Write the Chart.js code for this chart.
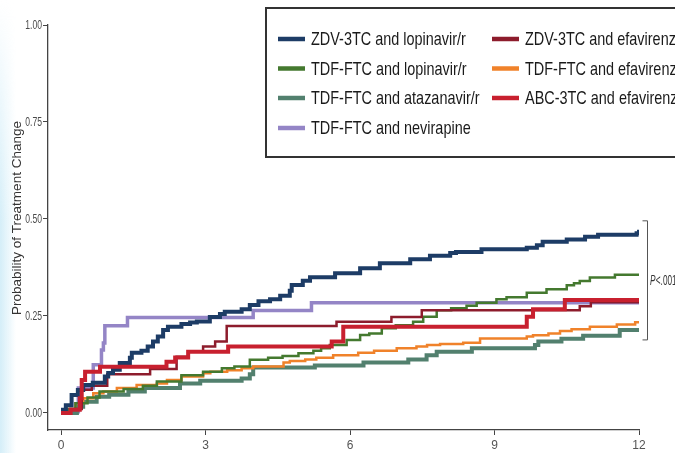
<!DOCTYPE html>
<html>
<head>
<meta charset="utf-8">
<script src="https://cdn.jsdelivr.net/npm/chart.js@4.4.1/dist/chart.umd.min.js"></script>
<style>
  html, body { margin: 0; padding: 0; width: 675px; height: 453px; overflow: hidden; background: #fff; }
  #wrap { position: relative; width: 675px; height: 453px; }
  #tint { position: absolute; left: 0; top: 0; width: 16px; height: 453px;
          background: linear-gradient(to right, rgba(205,235,247,0.85), rgba(255,255,255,0));
          -webkit-mask-image: linear-gradient(to bottom, transparent 0, #000 220px);
          mask-image: linear-gradient(to bottom, transparent 0, #000 220px); }
  canvas { position: absolute; left: 0; top: 0; display: block; }
</style>
</head>
<body>
<div id="wrap">
  <div id="tint"></div>
  <canvas id="c" width="675" height="453"></canvas>
</div>
<script>
// Cumulative probability of treatment change by regimen (months since start)
const xTickValues = [0, 3, 6, 9, 12];
const xTickLabels = ['0', '3', '6', '9', '12'];
const yTickValues = [0, 0.25, 0.5, 0.75, 1];
const yTickLabels = ['0.00', '0.25', '0.50', '0.75', '1.00'];
const yTitle = 'Probability of Treatment Change';
const pText = '<.001';

const names = [
  'ZDV-3TC and lopinavir/r',
  'TDF-FTC and lopinavir/r',
  'TDF-FTC and atazanavir/r',
  'TDF-FTC and nevirapine',
  'ZDV-3TC and efavirenz',
  'TDF-FTC and efavirenz',
  'ABC-3TC and efavirenz'
];
const colors = ['#1d3c66', '#44792f', '#52806e', '#9485c6', '#8d1c2c', '#f0822a', '#c8202f'];

// ZDV-3TC and lopinavir/r
const zdvLpvT = [0, 0.1, 0.22, 0.35, 0.46, 0.66, 0.91, 0.98, 1.08, 1.22, 1.43, 1.47, 1.67, 1.8, 1.91, 2.01, 2.12, 2.22, 2.5, 2.68, 2.82, 3.09, 3.3, 3.4, 3.75, 3.92, 4.1, 4.34, 4.55, 4.75, 4.79, 5.02, 5.17, 5.69, 6.21, 6.62, 7.25, 7.66, 8.08, 8.2, 8.73, 9.67, 9.88, 10.0, 10.5, 10.88, 11.15, 11.95, 12.0];
const zdvLpvY = [0.008, 0.02, 0.046, 0.059, 0.072, 0.078, 0.094, 0.103, 0.111, 0.129, 0.142, 0.155, 0.16, 0.171, 0.184, 0.197, 0.214, 0.222, 0.229, 0.233, 0.236, 0.247, 0.255, 0.261, 0.267, 0.278, 0.288, 0.293, 0.302, 0.315, 0.33, 0.341, 0.35, 0.36, 0.373, 0.386, 0.396, 0.405, 0.412, 0.415, 0.422, 0.426, 0.432, 0.441, 0.447, 0.454, 0.459, 0.463, 0.472];

// TDF-FTC and lopinavir/r
const tdfLpvT = [0, 0.15, 0.3, 0.55, 0.8, 1.3, 1.7, 1.99, 2.5, 2.95, 3.34, 3.6, 3.92, 4.3, 4.6, 4.93, 5.24, 5.4, 5.58, 5.93, 6.21, 6.4, 6.66, 6.95, 7.31, 7.52, 7.8, 8.1, 8.42, 8.63, 9.04, 9.25, 9.67, 10.08, 10.5, 10.65, 10.77, 10.98, 11.5, 12];
const tdfLpvY = [0, 0.01, 0.025, 0.04, 0.055, 0.062, 0.07, 0.081, 0.097, 0.106, 0.115, 0.12, 0.137, 0.142, 0.147, 0.154, 0.16, 0.167, 0.175, 0.188, 0.201, 0.205, 0.218, 0.226, 0.235, 0.248, 0.265, 0.27, 0.276, 0.284, 0.293, 0.298, 0.31, 0.319, 0.329, 0.334, 0.34, 0.349, 0.356, 0.356];

// TDF-FTC and atazanavir/r
const tdfAtvT = [0, 0.33, 0.46, 0.74, 1.0, 1.4, 1.74, 2.47, 2.89, 3.75, 3.92, 3.99, 5.27, 6.28, 7.21, 7.59, 7.8, 8.53, 9.84, 9.91, 10.39, 10.84, 11.6, 12];
const tdfAtvY = [0, 0.016, 0.029, 0.042, 0.047, 0.055, 0.064, 0.076, 0.083, 0.089, 0.1, 0.117, 0.122, 0.13, 0.138, 0.149, 0.158, 0.167, 0.175, 0.184, 0.191, 0.199, 0.214, 0.214];

// TDF-FTC and nevirapine
const tdfNvpT = [0, 0.36, 0.67, 0.84, 0.88, 0.91, 1.38, 3.99, 5.2, 12];
const tdfNvpY = [0.003, 0.064, 0.124, 0.162, 0.18, 0.225, 0.246, 0.264, 0.284, 0.284];

// ZDV-3TC and efavirenz
const zdvEfvT = [0, 0.2, 0.43, 0.64, 0.96, 1.85, 2.4, 2.64, 2.95, 3.2, 3.44, 5.72, 6.86, 7.49, 10.77, 11.0, 12];
const zdvEfvY = [0, 0.01, 0.06, 0.07, 0.1, 0.113, 0.145, 0.158, 0.171, 0.184, 0.224, 0.235, 0.247, 0.265, 0.275, 0.285, 0.285];

// TDF-FTC and efavirenz
const tdfEfvT = [0, 0.15, 0.3, 0.46, 0.67, 0.88, 1.16, 1.57, 1.99, 2.2, 2.5, 2.95, 3.1, 3.45, 3.75, 3.99, 4.62, 4.75, 5.07, 5.3, 5.65, 6.17, 6.5, 6.97, 7.38, 7.6, 7.87, 8.35, 8.7, 9.67, 9.8, 10.12, 10.36, 10.6, 10.98, 11.54, 11.92, 12];
const tdfEfvY = [0, 0.01, 0.025, 0.038, 0.051, 0.055, 0.064, 0.072, 0.076, 0.085, 0.094, 0.102, 0.106, 0.11, 0.115, 0.12, 0.13, 0.134, 0.138, 0.142, 0.149, 0.155, 0.16, 0.167, 0.171, 0.175, 0.178, 0.181, 0.192, 0.197, 0.2, 0.205, 0.211, 0.216, 0.222, 0.228, 0.234, 0.234];

// ABC-3TC and efavirenz
const abcEfvT = [0, 0.2, 0.39, 0.43, 0.5, 0.81, 2.19, 2.37, 2.64, 3.47, 5.62, 5.86, 9.67, 9.8, 10.46, 12];
const abcEfvY = [0, 0.008, 0.038, 0.085, 0.106, 0.119, 0.132, 0.143, 0.158, 0.171, 0.184, 0.222, 0.248, 0.267, 0.291, 0.291];

const seriesT = [zdvLpvT, tdfLpvT, tdfAtvT, tdfNvpT, zdvEfvT, tdfEfvT, abcEfvT];
const seriesY = [zdvLpvY, tdfLpvY, tdfAtvY, tdfNvpY, zdvEfvY, tdfEfvY, abcEfvY];
const widths = [4, 2.5, 4, 3.5, 2.5, 2.5, 4];
// first entry is painted last (on top)
const drawOrder = [6, 0, 4, 1, 5, 2, 3];

// legend layout: two columns of series indices
const legendCols = [[0, 1, 2, 3], [4, 5, 6]];

const FONT_SANS = "'Liberation Sans',Arial,Helvetica,sans-serif";

const datasets = drawOrder.map((k, i) => ({
  label: names[k],
  data: seriesT[k].map((t, j) => ({ x: t, y: seriesY[k][j] })),
  borderColor: colors[k],
  backgroundColor: colors[k],
  borderWidth: widths[k],
  stepped: true,
  pointRadius: 0,
  fill: false,
  tension: 0,
  borderJoinStyle: 'miter',
  borderCapStyle: 'butt',
  order: i
}));

// squeeze the value labels of the vertical axis horizontally, anchored at their right edge
function condenseLabels(scale, factor) {
  if (scale._condensed) return;
  const orig = scale.drawLabels;
  scale.drawLabels = function (area) {
    const ctx = this.ctx;
    const ax = this.right - 6;
    ctx.save();
    ctx.translate(ax, 0);
    ctx.scale(factor, 1);
    ctx.translate(-ax, 0);
    orig.call(this, area);
    ctx.restore();
  };
  scale._condensed = true;
}

const overlay = {
  id: 'overlay',
  afterDraw(chart) {
    const ctx = chart.ctx;
    const xs = chart.scales.x, ys = chart.scales.y;

    // axis title
    ctx.save();
    ctx.translate(17, 218);
    ctx.rotate(-Math.PI / 2);
    ctx.font = '13.5px ' + FONT_SANS;
    ctx.fillStyle = '#333';
    ctx.textAlign = 'center';
    ctx.textBaseline = 'middle';
    ctx.fillText(yTitle, 0, 0);
    ctx.restore();

    // bracket around the end values
    const ends = seriesY.map(a => a[a.length - 1]);
    const top = ys.getPixelForValue(Math.max(...ends)) - 9;
    const bot = ys.getPixelForValue(Math.min(...ends)) + 10;
    const bx = xs.getPixelForValue(12) + 8.5;
    ctx.save();
    ctx.strokeStyle = '#555';
    ctx.lineWidth = 1;
    ctx.beginPath();
    ctx.moveTo(bx - 5, top); ctx.lineTo(bx, top); ctx.lineTo(bx, bot); ctx.lineTo(bx - 5, bot);
    ctx.stroke();
    const mid = (top + bot) / 2;
    ctx.translate(bx + 2.5, mid);
    ctx.scale(0.55, 1);
    ctx.fillStyle = '#333';
    ctx.textBaseline = 'middle';
    ctx.font = 'italic 15px ' + FONT_SANS;
    ctx.fillText('P', 0, 0);
    const pw = ctx.measureText('P').width;
    ctx.font = '15px ' + FONT_SANS;
    ctx.fillText(pText, pw + 0.5, 0);
    ctx.restore();

    // legend box
    ctx.save();
    ctx.fillStyle = '#fff';
    ctx.fillRect(266, 8, 420, 149);
    ctx.strokeStyle = '#333';
    ctx.lineWidth = 2;
    ctx.strokeRect(266, 8, 420, 149);
    const rowY = [39, 68.5, 98, 128];
    const colX = [278, 492];
    legendCols.forEach((col, ci) => {
      col.forEach((k, ri) => {
        const x0 = colX[ci], y0 = rowY[ri];
        ctx.strokeStyle = colors[k];
        ctx.lineWidth = 4.5;
        ctx.beginPath();
        ctx.moveTo(x0, y0);
        ctx.lineTo(x0 + 27, y0);
        ctx.stroke();
        ctx.save();
        ctx.translate(x0 + 33, y0 + 1);
        ctx.scale(0.76, 1);
        ctx.font = '19px ' + FONT_SANS;
        ctx.fillStyle = '#1a1a1a';
        ctx.textBaseline = 'middle';
        ctx.fillText(names[k], 0, 0);
        ctx.restore();
      });
    });
    ctx.restore();
  }
};

new Chart(document.getElementById('c'), {
  type: 'line',
  data: { datasets },
  options: {
    responsive: false,
    animation: false,
    devicePixelRatio: 1,
    layout: { padding: { left: 0, top: 25, right: 36, bottom: 0 } },
    plugins: { legend: { display: false }, tooltip: { enabled: false } },
    scales: {
      x: {
        type: 'linear',
        min: -0.27,
        max: 12,
        afterFit(s) { s.height = 23; },
        afterBuildTicks(s) { s.ticks = xTickValues.map(v => ({ value: v })); },
        border: { display: true, color: '#444', width: 1.3 },
        grid: { display: true, drawOnChartArea: false, drawTicks: true, tickLength: 5, color: '#444', lineWidth: 1 },
        ticks: {
          autoSkip: false, maxRotation: 0, padding: 3,
          color: '#555', font: { family: FONT_SANS, size: 12 },
          callback: (v, i) => xTickLabels[i]
        }
      },
      y: {
        type: 'linear',
        min: -0.044,
        max: 1,
        afterFit(s) { s.width = 48; },
        afterUpdate(s) { condenseLabels(s, 0.66); },
        afterBuildTicks(s) { s.ticks = yTickValues.map(v => ({ value: v })); },
        border: { display: true, color: '#444', width: 1.3 },
        grid: { display: true, drawOnChartArea: false, drawTicks: true, tickLength: 5, color: '#444', lineWidth: 1 },
        ticks: {
          autoSkip: false, padding: 1,
          color: '#4a4a4a', font: { family: FONT_SANS, size: 13 },
          callback: (v, i) => yTickLabels[i]
        }
      }
    }
  },
  plugins: [overlay]
});
</script>
</body>
</html>
